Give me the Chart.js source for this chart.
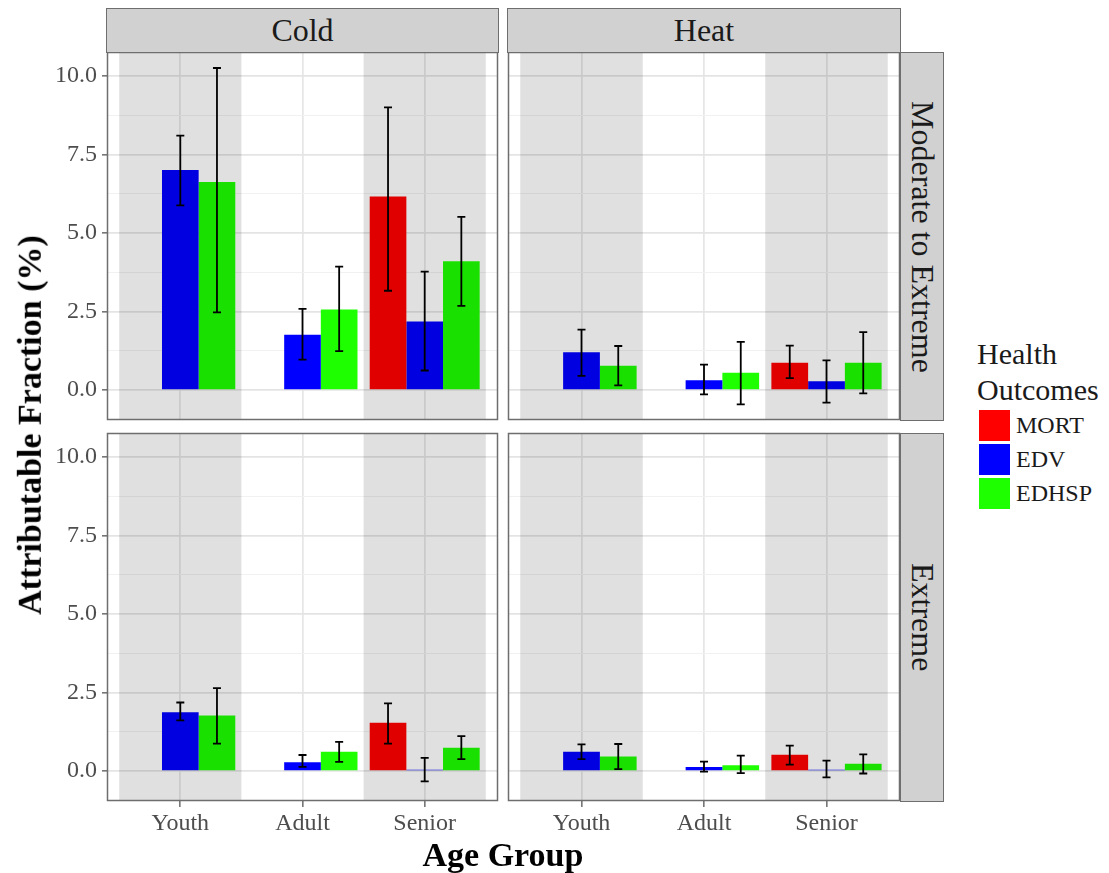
<!DOCTYPE html>
<html>
<head>
<meta charset="utf-8">
<script src="https://cdn.jsdelivr.net/npm/chart.js@4.4.1/dist/chart.umd.min.js"></script>
<style>
  body { margin: 0; background: #fff; }
  #wrap { position: relative; width: 1109px; height: 873px; background: #fff; font-family: 'Liberation Serif', serif; overflow: hidden; }
  canvas { position: absolute; }
  .strip { position: absolute; box-sizing: border-box; background: #d1d1d1; border: 1.5px solid #6e6e6e; color: #1a1a1a; font-size: 32px; display: flex; align-items: center; justify-content: center; white-space: nowrap; }
  .strip.v span { writing-mode: vertical-rl; }
  .title { position: absolute; font-weight: bold; font-size: 34px; color: #000; white-space: nowrap; }
  .legend { position: absolute; left: 977px; top: 336px; color: #1a1a1a; }
  .legend .lt { font-size: 30px; line-height: 36px; }
  .legend .row { display: flex; align-items: center; height: 34px; }
  .legend .key { width: 31px; height: 31px; margin-left: 2px; margin-right: 6px; }
  .legend .lab { font-size: 24px; }
</style>
</head>
<body>
<div id="wrap"></div>
<script>
// Age groups on the x axis and the three health outcomes
const ageGroups = ['Youth', 'Adult', 'Senior'];
const outcomes = ['MORT', 'EDV', 'EDHSP'];
const outcomeColors = ['#ff0000', '#0000ff', '#1eff00'];

// Attributable fraction (%) per age group: [estimate, lower, upper]; null = not estimated
// Cold, Moderate to Extreme
const coldModMORT  = [null, null, [6.16, 3.16, 9.00]];
const coldModEDV   = [[7.00, 5.88, 8.10], [1.76, 0.97, 2.58], [2.18, 0.62, 3.77]];
const coldModEDHSP = [[6.62, 2.47, 10.25], [2.56, 1.24, 3.93], [4.10, 2.68, 5.51]];
// Heat, Moderate to Extreme
const heatModMORT  = [null, null, [0.87, 0.38, 1.41]];
const heatModEDV   = [[1.20, 0.45, 1.92], [0.31, -0.14, 0.81], [0.28, -0.40, 0.94]];
const heatModEDHSP = [[0.77, 0.15, 1.40], [0.55, -0.46, 1.53], [0.87, -0.11, 1.84]];
// Cold, Extreme
const coldExtMORT  = [null, null, [1.54, 0.87, 2.15]];
const coldExtEDV   = [[1.87, 1.61, 2.18], [0.28, 0.13, 0.51], [0.04, -0.33, 0.42]];
const coldExtEDHSP = [[1.77, 0.87, 2.64], [0.61, 0.29, 0.93], [0.74, 0.38, 1.11]];
// Heat, Extreme
const heatExtMORT  = [null, null, [0.52, 0.20, 0.81]];
const heatExtEDV   = [[0.61, 0.38, 0.85], [0.13, -0.02, 0.30], [0.04, -0.20, 0.33]];
const heatExtEDHSP = [[0.46, 0.06, 0.86], [0.18, -0.07, 0.49], [0.23, -0.08, 0.53]];

// Facet labels and y axis ticks
const columnLabels = ['Cold', 'Heat'];
const rowLabels = ['Moderate to Extreme', 'Extreme'];
const yMajorTicks = [0, 2.5, 5, 7.5, 10];
const yTickLabels = ['0.0', '2.5', '5.0', '7.5', '10.0'];
const yMin = -0.955, yMax = 10.76;

const panelSeries = [
  [coldModMORT, coldModEDV, coldModEDHSP],
  [heatModMORT, heatModEDV, heatModEDHSP],
  [coldExtMORT, coldExtEDV, coldExtEDHSP],
  [heatExtMORT, heatExtEDV, heatExtEDHSP]
];

// Layout of the 2x2 facet grid
const colX = [107, 508], colW = [391, 392];
const rowY = [52, 433], rowH = 368;
const yAxisW = 67, xAxisH = 52;
const PAD = 30; // spare canvas margin so axis label overflow never shrinks the plot area

const wrap = document.getElementById('wrap');
const FONT = "'Liberation Serif', serif";

// Shaded bands behind alternate age groups, error bars and the panel frame
const panelDecor = {
  id: 'panelDecor',
  afterDatasetsDraw(chart) {
    const { ctx, chartArea: a, scales: { x, y } } = chart;
    ctx.save();
    ctx.fillStyle = 'rgba(0,0,0,0.12)';
    [1, 3].forEach(c => {
      const l = x.getPixelForValue(c - 0.5), r = x.getPixelForValue(c + 0.5);
      ctx.fillRect(l, a.top, r - l, a.bottom - a.top);
    });
    ctx.strokeStyle = '#000';
    ctx.lineWidth = 1.8;
    chart.data.datasets.forEach((ds, di) => {
      const meta = chart.getDatasetMeta(di);
      ds.intervals.forEach((iv, i) => {
        if (!iv) return;
        const px = meta.data[i].x;
        const lo = y.getPixelForValue(iv[0]), hi = y.getPixelForValue(iv[1]);
        ctx.beginPath();
        ctx.moveTo(px, lo); ctx.lineTo(px, hi);
        ctx.moveTo(px - 4, lo); ctx.lineTo(px + 4, lo);
        ctx.moveTo(px - 4, hi); ctx.lineTo(px + 4, hi);
        ctx.stroke();
      });
    });
    ctx.strokeStyle = '#6e6e6e';
    ctx.lineWidth = 1.5;
    ctx.strokeRect(a.left + 0.5, a.top + 0.5, a.width - 1, a.height - 1);
    ctx.restore();
  }
};

function makePanel(p) {
  const row = Math.floor(p / 2), col = p % 2;
  const showY = col === 0, showX = row === 1;
  const canvas = document.createElement('canvas');
  const left = colX[col] - (showY ? yAxisW : 0) - PAD;
  const w = colW[col] + (showY ? yAxisW : 0) + 2 * PAD;
  const h = rowH + (showX ? xAxisH : 0) + 2 * PAD;
  canvas.width = w; canvas.height = h;
  canvas.style.left = left + 'px';
  canvas.style.top = (rowY[row] - PAD) + 'px';
  wrap.appendChild(canvas);

  const datasets = outcomes.map((name, k) => ({
    label: name,
    data: panelSeries[p][k].map((v, i) => ({ x: i + 1, y: v ? v[0] : null })),
    intervals: panelSeries[p][k].map(v => v ? [v[1], v[2]] : null),
    backgroundColor: outcomeColors[k],
    borderWidth: 0,
    categoryPercentage: 0.9,
    barPercentage: 1.0
  }));

  new Chart(canvas, {
    type: 'bar',
    data: { datasets },
    options: {
      responsive: false,
      animation: false,
      devicePixelRatio: 1,
      layout: { padding: PAD },
      plugins: { legend: { display: false }, tooltip: { enabled: false } },
      scales: {
        x: {
          type: 'linear', min: 0.4, max: 3.6, offset: false,
          afterBuildTicks(s) { s.ticks = ageGroups.map((_, i) => ({ value: i + 1 })); },
          afterFit(s) { s.height = showX ? xAxisH : 0; },
          border: { display: false },
          grid: { offset: false, color: '#e6e6e6', lineWidth: 1.7, drawTicks: showX, tickLength: 6, tickColor: '#555', tickWidth: 1.3 },
          ticks: {
            display: showX, autoSkip: false, maxRotation: 0, padding: 2,
            color: '#4d4d4d', font: { family: FONT, size: 24 },
            callback: v => ageGroups[v - 1]
          }
        },
        y: {
          type: 'linear', min: yMin, max: yMax,
          afterBuildTicks(s) {
            const vals = [];
            for (let i = 0; i < yMajorTicks.length; i++) {
              vals.push(yMajorTicks[i]);
              if (i < yMajorTicks.length - 1) vals.push((yMajorTicks[i] + yMajorTicks[i + 1]) / 2);
            }
            s.ticks = vals.map(v => ({ value: v }));
          },
          afterFit(s) { s.width = showY ? yAxisW : 0; },
          border: { display: false },
          grid: {
            drawTicks: showY, tickLength: 5,
            color: c => yMajorTicks.includes(c.tick.value) ? '#e4e4e4' : '#f1f1f1',
            lineWidth: c => yMajorTicks.includes(c.tick.value) ? 1.7 : 1.1,
            tickColor: c => yMajorTicks.includes(c.tick.value) ? '#555' : 'rgba(0,0,0,0)',
            tickWidth: 1.3
          },
          ticks: {
            display: showY, autoSkip: false, padding: 5,
            color: '#4d4d4d', font: { family: FONT, size: 24 },
            callback: v => { const i = yMajorTicks.indexOf(v); return i >= 0 ? yTickLabels[i] : ''; }
          }
        }
      }
    },
    plugins: [panelDecor]
  });
}

for (let p = 0; p < 4; p++) makePanel(p);

// Facet strips
function addStrip(text, x, y, w, h, vertical) {
  const d = document.createElement('div');
  d.className = 'strip' + (vertical ? ' v' : '');
  Object.assign(d.style, { left: x + 'px', top: y + 'px', width: w + 'px', height: h + 'px' });
  const s = document.createElement('span');
  s.textContent = text;
  d.appendChild(s);
  wrap.appendChild(d);
}
columnLabels.forEach((t, c) => addStrip(t, colX[c] - 1, 8, colW[c] + 2, 45, false));
rowLabels.forEach((t, r) => addStrip(t, 900, rowY[r], 44, rowH + 1, true));

// Axis titles
const xt = document.createElement('div');
xt.className = 'title';
xt.textContent = 'Age Group';
wrap.appendChild(xt);
xt.style.left = (503 - xt.offsetWidth / 2) + 'px';
xt.style.top = (855 - xt.offsetHeight / 2) + 'px';

const yt = document.createElement('div');
yt.className = 'title';
yt.textContent = 'Attributable Fraction (%)';
wrap.appendChild(yt);
yt.style.left = (30 - yt.offsetWidth / 2) + 'px';
yt.style.top = (425 - yt.offsetHeight / 2) + 'px';
yt.style.transform = 'rotate(-90deg)';

// Legend
const lg = document.createElement('div');
lg.className = 'legend';
lg.innerHTML = '<div class="lt">Health</div><div class="lt">Outcomes</div>';
outcomes.forEach((name, k) => {
  const r = document.createElement('div');
  r.className = 'row';
  r.innerHTML = '<div class="key" style="background:' + outcomeColors[k] + '"></div><div class="lab">' + name + '</div>';
  lg.appendChild(r);
});
wrap.appendChild(lg);
</script>
</body>
</html>
